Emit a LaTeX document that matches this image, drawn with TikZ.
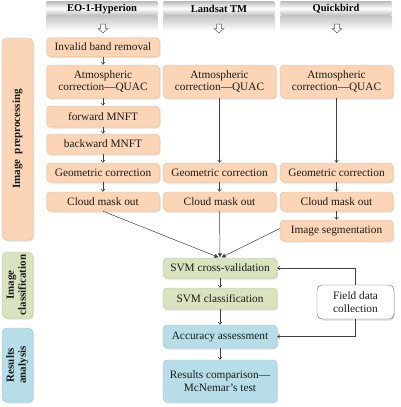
\documentclass[tikz,border=0pt]{standalone}
\usepackage{fontspec}
\setmainfont{Liberation Serif}
\usetikzlibrary{arrows.meta,shadows}
\definecolor{peach}{HTML}{FBD5B5}
\definecolor{peachd}{HTML}{EDBB92}
\definecolor{lgreen}{HTML}{D7E4BD}
\definecolor{lgreend}{HTML}{B5C88E}
\definecolor{lblue}{HTML}{B7DEE8}
\definecolor{lblued}{HTML}{8EC4D3}
\definecolor{txt}{HTML}{1A1A1A}
\tikzset{
  base/.style={rounded corners=4pt, align=center, inner sep=1pt, text=txt,
    font=\fontsize{11.3}{12.5}\selectfont, line width=0.4pt,
    drop shadow={opacity=0.25, shadow xshift=1.2pt, shadow yshift=-1.5pt}},
  pbox/.style={base, fill=peach, draw=peachd, minimum width=113pt},
  gbox/.style={base, fill=lgreen, draw=lgreend, minimum width=114pt},
  bbox/.style={base, fill=lblue, draw=lblued, minimum width=114pt},
  side/.style={rounded corners=5pt, align=center, inner sep=1pt, text=txt,
    font=\bfseries\fontsize{11}{12}\selectfont, minimum width=31pt, line width=0.4pt,
    drop shadow={opacity=0.25, shadow xshift=1.2pt, shadow yshift=-1.5pt}},
  banner/.style={shading=axis, top color=gray!55, bottom color=gray!55, middle color=white,
    rounded corners=2pt, minimum width=112pt, minimum height=15pt, inner sep=0pt,
    font=\bfseries\fontsize{10.5}{12}\selectfont, text=black},
  band/.style={shading=axis, top color=gray!45, bottom color=white, draw=none},
  hollow/.style={draw=gray!70!black, fill=white, line width=0.5pt, line join=miter},
  con/.style={draw=black!75, line width=0.5pt, -{Straight Barb[length=2.5pt,width=4pt]}},
  conf/.style={draw=black!75, line width=0.5pt, -{Triangle[length=4pt,width=4pt]}}
}
\begin{document}
\begin{tikzpicture}[x=1pt,y=-1pt]
\useasboundingbox (0,0) rectangle (400,407);
% header banners
\fill[band] (46,16) rectangle (158,31);
\fill[band] (163,16) rectangle (275,31);
\fill[band] (280,16) rectangle (392,31);
\node[banner] (hA) at (102,8.5) {EO-1-Hyperion};
\node[banner] (hB) at (219,8.5) {Landsat TM};
\node[banner] (hC) at (336,8.5) {Quickbird};
\foreach \cx/\nm in {103/aA,219/aB,337/aC}{
  \coordinate (\nm) at (\cx,28.5);
  \draw[hollow] ([shift={(-2.5,-4.5)}]\nm) -- ([shift={(2.5,-4.5)}]\nm) -- ([shift={(2.5,0)}]\nm)
    -- ([shift={(5,0)}]\nm) -- ([shift={(0,4.5)}]\nm) -- ([shift={(-5,0)}]\nm)
    -- ([shift={(-2.5,0)}]\nm) -- cycle;
}
% side labels
\node[side, fill=peach, draw=peachd, minimum height=202pt] (sP) at (17.5,139) {\rotatebox{90}{Image\ \ preprocessing}};
\node[side, fill=lgreen, draw=lgreend, minimum height=66pt] (sC) at (17.5,285) {\rotatebox{90}{\begin{tabular}{@{}c@{}}Image\\classification\end{tabular}}};
\node[side, fill=lblue, draw=lblued, minimum height=74pt] (sR) at (17.5,365) {\rotatebox{90}{\begin{tabular}{@{}c@{}}Results\\analysis\end{tabular}}};
% column A
\node[pbox, minimum height=19pt] (inv) at (103,47) {Invalid band removal};
\node[pbox, minimum height=33pt] (atmA) at (103,81.5) {Atmospheric\\correction—QUAC};
\node[pbox, minimum height=21pt] (fwd) at (103,116.5) {forward MNFT};
\node[pbox, minimum height=20pt] (bwd) at (103,144) {backward MNFT};
\node[pbox, minimum height=19pt] (geoA) at (103,172.5) {Geometric correction};
\node[pbox, minimum height=19pt] (cldA) at (103,201.5) {Cloud mask out};
% column B
\node[pbox, minimum height=33pt] (atmB) at (219.5,81.5) {Atmospheric\\correction—QUAC};
\node[pbox, minimum height=19pt] (geoB) at (219.5,172.5) {Geometric correction};
\node[pbox, minimum height=19pt] (cldB) at (219.5,201.5) {Cloud mask out};
% column C
\node[pbox, minimum height=33pt] (atmC) at (336.5,81.5) {Atmospheric\\correction—QUAC};
\node[pbox, minimum height=19pt] (geoC) at (336.5,172.5) {Geometric correction};
\node[pbox, minimum height=19pt] (cldC) at (336.5,201.5) {Cloud mask out};
\node[pbox, minimum height=21pt] (seg) at (336.5,230.5) {Image segmentation};
% classification and analysis
\node[gbox, minimum height=20pt] (svmcv) at (220,268) {SVM cross-validation};
\node[gbox, minimum height=21pt] (svmcl) at (220,298.5) {SVM classification};
\node[bbox, minimum height=23pt] (acc) at (220,336.5) {Accuracy assessment};
\node[bbox, minimum height=42pt] (res) at (220,381) {Results comparison—\\McNemar’s test};
\node[base, fill=white, draw=black!60, minimum width=77pt, minimum height=34pt, rounded corners=5pt] (fld) at (355.5,302) {Field data\\collection};
% connectors
\draw[con] (inv) -- (atmA);
\draw[con] (atmA) -- (fwd);
\draw[con] (fwd) -- (bwd);
\draw[con] (bwd) -- (geoA);
\draw[con] (geoA) -- (cldA);
\draw[con] (atmB) -- (geoB);
\draw[con] (geoB) -- (cldB);
\draw[con] (atmC) -- (geoC);
\draw[con] (geoC) -- (cldC);
\draw[con] (cldC) -- (seg);
\coordinate (conv) at ([yshift=0.5pt]svmcv.north);
\draw[conf] (cldA.south) -- ([xshift=-1.5pt]conv);
\draw[conf] (cldB.south) -- (conv);
\draw[conf] ([yshift=2pt]seg.west) -- ([xshift=1.5pt]conv);
\draw[con] (svmcv) -- (svmcl);
\draw[con] (svmcl) -- (acc);
\draw[con] (acc) -- (res);
\draw[con] (fld.north) |- (svmcv.east);
\draw[con] (fld.south) |- (acc.east);
\end{tikzpicture}
\end{document}
